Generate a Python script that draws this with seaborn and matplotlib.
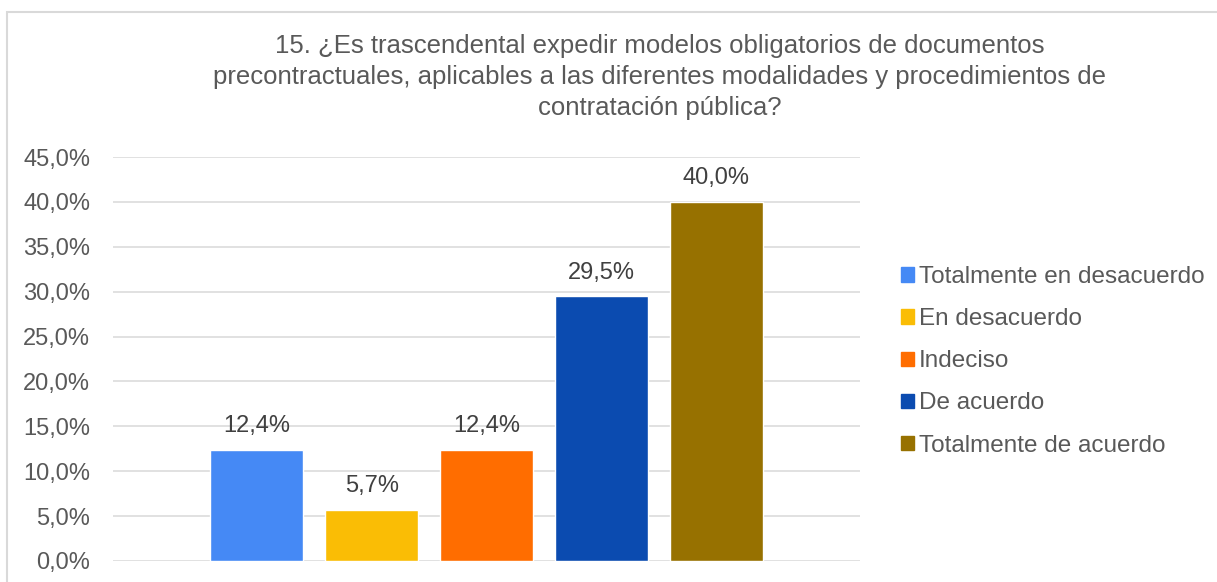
import matplotlib
matplotlib.use("Agg")
import matplotlib.pyplot as plt
import seaborn as sns
import pandas as pd
from matplotlib.patches import Patch, Rectangle
from matplotlib.ticker import FuncFormatter

# datos
categorias = ["Totalmente en desacuerdo", "En desacuerdo", "Indeciso",
              "De acuerdo", "Totalmente de acuerdo"]
porcentajes = [12.4, 5.7, 12.4, 29.5, 40.0]
colores = ["#4589f5", "#fabd05", "#ff6d00", "#0b4bb0", "#977100"]
titulo = ("15. ¿Es trascendental expedir modelos obligatorios de documentos\n"
          "precontractuales, aplicables a las diferentes modalidades y procedimientos de\n"
          "contratación pública?")

df = pd.DataFrame({"categoria": categorias, "valor": porcentajes})

sns.set_theme(style="white")
plt.rcParams["font.family"] = ["Liberation Sans", "DejaVu Sans"]

fig = plt.figure(figsize=(12.17, 5.82), dpi=100)
ax = fig.add_axes([0.0929, 0.0361, 0.6138, 0.6941])

sns.barplot(data=df, x="categoria", y="valor", hue="categoria",
            palette=colores, width=0.81, saturation=1, legend=False, ax=ax)

for patch, val in zip(ax.patches, porcentajes):
    ax.annotate(f"{val:.1f}%".replace(".", ","),
                (patch.get_x() + patch.get_width() / 2, patch.get_height()),
                xytext=(0, 9), textcoords="offset points",
                ha="center", va="bottom", fontsize=17, color="#404040")

ax.set_ylim(0, 45)
ax.set_xlim(-1.25, 5.25)
ax.set_yticks(range(0, 46, 5))
ax.yaxis.set_major_formatter(FuncFormatter(lambda v, _: f"{v:.1f}%".replace(".", ",")))
ax.tick_params(axis="y", labelsize=17, labelcolor="#595959", length=0, pad=16.5)
ax.set_xticks([])
ax.set_xlabel("")
ax.set_ylabel("")
ax.grid(axis="y", color="#d9d9d9", linewidth=1.1)
ax.set_axisbelow(True)
for s in ax.spines.values():
    s.set_visible(False)

fig.text(0.5423, 0.941, titulo, ha="center", va="top", fontsize=18.5,
         color="#595959", linespacing=1.35)

handles = [Patch(color=c, label=l) for c, l in zip(colores, categorias)]
fig.legend(handles=handles, loc="upper left", bbox_to_anchor=(0.7403, 0.543),
           frameon=False, fontsize=17.5, handlelength=0.53, handleheight=0.53,
           handletextpad=0.2, labelspacing=0.83, labelcolor="#595959",
           borderpad=0, borderaxespad=0)

# marco del gráfico
fig.patches.append(Rectangle((7 / 1217, -0.05), 1.1, 1.05 - 12 / 582,
                             transform=fig.transFigure, fill=False,
                             edgecolor="#d9d9d9", linewidth=1.5))

fig.savefig("out.png", dpi=100)
